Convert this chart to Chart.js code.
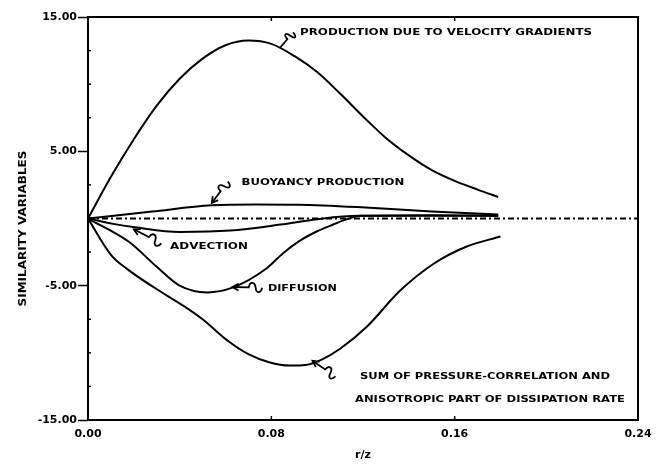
<!DOCTYPE html>
<html>
<head>
<meta charset="utf-8">
<script src="https://cdn.jsdelivr.net/npm/chart.js@4.4.1/dist/chart.umd.min.js"></script>
<style>
  html, body { margin: 0; padding: 0; background: #fff; }
  canvas { display: block; }
</style>
</head>
<body>
<canvas id="c" width="666" height="466"></canvas>
<script>
// Similarity variables of the turbulent energy budget versus r/z
const productionX = [0, 0.01, 0.02, 0.03, 0.04, 0.05, 0.06, 0.07, 0.08, 0.09, 0.10, 0.11, 0.12, 0.13, 0.14, 0.15, 0.16, 0.17, 0.179];
const productionY = [0, 3.1, 5.9, 8.4, 10.4, 11.9, 12.9, 13.25, 13.0, 12.1, 10.9, 9.3, 7.6, 6.0, 4.7, 3.6, 2.8, 2.15, 1.6];

const buoyancyX = [0, 0.028, 0.054, 0.073, 0.092, 0.121, 0.150, 0.179];
const buoyancyY = [0, 0.52, 0.98, 1.05, 1.03, 0.82, 0.52, 0.30];

const advectionX = [0, 0.011, 0.0205, 0.040, 0.062, 0.084, 0.100, 0.118, 0.150, 0.179];
const advectionY = [0, -0.4, -0.65, -1.0, -0.9, -0.45, -0.05, 0.2, 0.2, 0.2];

const diffusionX = [0, 0.018, 0.030, 0.040, 0.052, 0.063, 0.078, 0.085, 0.092, 0.100, 0.107, 0.113, 0.119, 0.150, 0.179];
const diffusionY = [0, -1.75, -3.6, -5.0, -5.5, -5.15, -3.7, -2.6, -1.7, -0.95, -0.45, -0.05, 0.2, 0.25, 0.2];

const pressureX = [0, 0.010, 0.017, 0.035, 0.043, 0.050, 0.061, 0.070, 0.079, 0.088, 0.095, 0.102, 0.110, 0.122, 0.136, 0.151, 0.165, 0.180];
const pressureY = [0, -2.7, -3.75, -5.8, -6.65, -7.5, -9.1, -10.1, -10.7, -10.95, -10.9, -10.5, -9.7, -8.0, -5.4, -3.35, -2.1, -1.34];

const zeroX = [0, 0.24];
const zeroY = [0, 0];

const xTicks = [0, 0.08, 0.16, 0.24];
const yTickLabels = [15, 5, -5, -15];

const xTitle = 'r/z';
const yTitle = 'SIMILARITY VARIABLES';

// Curve labels: text lines with their left/right extent and the pointer from text to curve (data units)
const curveNotes = [
  { lines: [{ text: 'PRODUCTION DUE TO VELOCITY GRADIENTS', x0: 0.0925, x1: 0.220, y: 13.8 }],
    from: [0.0895, 13.85], to: [0.084, 12.75], head: false },
  { lines: [{ text: 'BUOYANCY PRODUCTION', x0: 0.067, x1: 0.138, y: 2.7 }],
    from: [0.061, 2.75], to: [0.054, 1.15], head: true },
  { lines: [{ text: 'ADVECTION', x0: 0.0358, x1: 0.0698, y: -2.1 }],
    from: [0.032, -1.85], to: [0.020, -0.8], head: true },
  { lines: [{ text: 'DIFFUSION', x0: 0.0785, x1: 0.1086, y: -5.2 }],
    from: [0.076, -5.15], to: [0.063, -5.1], head: true },
  { lines: [
      { text: 'SUM OF PRESSURE-CORRELATION AND', x0: 0.1187, x1: 0.2278, y: -11.75 },
      { text: 'ANISOTROPIC PART OF DISSIPATION RATE', x0: 0.1165, x1: 0.2343, y: -13.5 }],
    from: [0.108, -11.75], to: [0.098, -10.6], head: true }
];

function pairs(xs, ys) { return xs.map((x, i) => ({ x: x, y: ys[i] })); }

function curve(label, xs, ys, extra) {
  return Object.assign({
    label: label,
    data: pairs(xs, ys),
    borderColor: '#000',
    borderWidth: 2,
    pointRadius: 0,
    fill: false,
    cubicInterpolationMode: 'monotone'
  }, extra || {});
}

function fitText(ctx, text, x, y, w) {
  const m = ctx.measureText(text).width;
  ctx.save();
  ctx.translate(x, y);
  ctx.scale(w / m, 1);
  ctx.fillText(text, 0, 0);
  ctx.restore();
}

function pointer(ctx, x0, y0, x1, y1, head) {
  const dx = x1 - x0, dy = y1 - y0, L = Math.hypot(dx, dy);
  const ux = dx / L, uy = dy / L, nx = -uy, ny = ux;
  const p = (t, o) => [x0 + ux * L * t + nx * o, y0 + uy * L * t + ny * o];
  ctx.beginPath();
  ctx.moveTo(x0, y0);
  const a = p(0.05, -6), b = p(0.20, -6), c = p(0.22, 0);
  ctx.bezierCurveTo(a[0], a[1], b[0], b[1], c[0], c[1]);
  const d = p(0.25, 6), e = p(0.42, 6), f = p(0.45, 0);
  ctx.bezierCurveTo(d[0], d[1], e[0], e[1], f[0], f[1]);
  ctx.lineTo(x1, y1);
  ctx.stroke();
  if (head) {
    const hl = 7;
    ctx.beginPath();
    const ang = Math.atan2(y0 - y1, x0 - x1);
    ctx.moveTo(x1 + hl * Math.cos(ang + 0.5), y1 + hl * Math.sin(ang + 0.5));
    ctx.lineTo(x1, y1);
    ctx.lineTo(x1 + hl * Math.cos(ang - 0.5), y1 + hl * Math.sin(ang - 0.5));
    ctx.stroke();
  }
}

const isMajorY = v => yTickLabels.some(t => Math.abs(t - v) < 1e-9);

const decor = {
  id: 'decor',
  afterDraw(chart) {
    const ctx = chart.ctx;
    const a = chart.chartArea;
    const xs = chart.scales.x, ys = chart.scales.y;
    ctx.save();
    ctx.strokeStyle = '#000';
    ctx.fillStyle = '#000';
    // frame
    ctx.lineWidth = 2;
    ctx.strokeRect(a.left, a.top, a.right - a.left, a.bottom - a.top);
    // minor ticks on the left axis
    ctx.lineWidth = 1.5;
    ys.ticks.forEach(t => {
      if (isMajorY(t.value)) return;
      const y = ys.getPixelForValue(t.value);
      ctx.beginPath();
      ctx.moveTo(a.left - 1, y);
      ctx.lineTo(a.left + 3, y);
      ctx.stroke();
    });
    // inner ticks on bottom and top edges
    xTicks.slice(1, -1).forEach(v => {
      const x = xs.getPixelForValue(v);
      ctx.beginPath();
      ctx.moveTo(x, a.bottom);
      ctx.lineTo(x, a.bottom - 4);
      ctx.moveTo(x, a.top);
      ctx.lineTo(x, a.top + 4);
      ctx.stroke();
    });
    // axis titles
    ctx.font = "bold 10px 'DejaVu Sans'";
    ctx.textBaseline = 'middle';
    ctx.save();
    ctx.translate(23, (a.top + a.bottom) / 2 + 10);
    ctx.rotate(-Math.PI / 2);
    fitText(ctx, yTitle, -78, 0, 156);
    ctx.restore();
    ctx.textAlign = 'left';
    ctx.font = "bold 11px 'DejaVu Sans'";
    const xm = (a.left + a.right) / 2;
    fitText(ctx, xTitle, xm - 8, 455, 16);
    // curve labels
    ctx.font = "bold 9px 'DejaVu Sans'";
    ctx.textBaseline = 'middle';
    ctx.lineWidth = 1.8;
    curveNotes.forEach(n => {
      n.lines.forEach(l => {
        const x0 = xs.getPixelForValue(l.x0), x1 = xs.getPixelForValue(l.x1);
        fitText(ctx, l.text, x0, ys.getPixelForValue(l.y), x1 - x0);
      });
      pointer(ctx,
        xs.getPixelForValue(n.from[0]), ys.getPixelForValue(n.from[1]),
        xs.getPixelForValue(n.to[0]), ys.getPixelForValue(n.to[1]), n.head);
    });
    ctx.restore();
  }
};

new Chart(document.getElementById('c'), {
  type: 'line',
  data: {
    datasets: [
      curve('Production due to velocity gradients', productionX, productionY),
      curve('Buoyancy production', buoyancyX, buoyancyY),
      curve('Advection', advectionX, advectionY),
      curve('Diffusion', diffusionX, diffusionY),
      curve('Sum of pressure-correlation and anisotropic part of dissipation rate', pressureX, pressureY),
      curve('Zero', zeroX, zeroY, { borderWidth: 1.8, borderDash: [6, 3, 2, 3], cubicInterpolationMode: 'default', tension: 0 })
    ]
  },
  options: {
    responsive: false,
    animation: false,
    devicePixelRatio: 1,
    layout: { padding: { top: 17, right: 28, bottom: 0, left: 0 } },
    plugins: { legend: { display: false }, tooltip: { enabled: false } },
    scales: {
      x: {
        type: 'linear',
        min: 0, max: 0.24,
        afterBuildTicks: s => { s.ticks = xTicks.map(v => ({ value: v })); },
        afterFit: s => { s.height = 46; },
        border: { display: false },
        grid: { display: false, drawTicks: false },
        ticks: {
          padding: 8,
          color: '#000',
          font: { family: 'DejaVu Sans', size: 11, weight: 'bold' },
          maxRotation: 0,
          autoSkip: false,
          callback: v => v.toFixed(2)
        }
      },
      y: {
        min: -15, max: 15,
        afterFit: s => { s.width = 88; },
        border: { display: false },
        grid: {
          drawOnChartArea: false,
          drawTicks: true,
          tickLength: 10,
          tickWidth: 1.5,
          tickColor: c => isMajorY(c.tick.value) ? '#000' : 'rgba(0,0,0,0)'
        },
        ticks: {
          stepSize: 2.5,
          padding: 1,
          color: '#000',
          autoSkip: false,
          font: { family: 'DejaVu Sans', size: 11, weight: 'bold' },
          callback: v => isMajorY(v) ? v.toFixed(2) : ''
        }
      }
    }
  },
  plugins: [decor]
});
</script>
</body>
</html>
